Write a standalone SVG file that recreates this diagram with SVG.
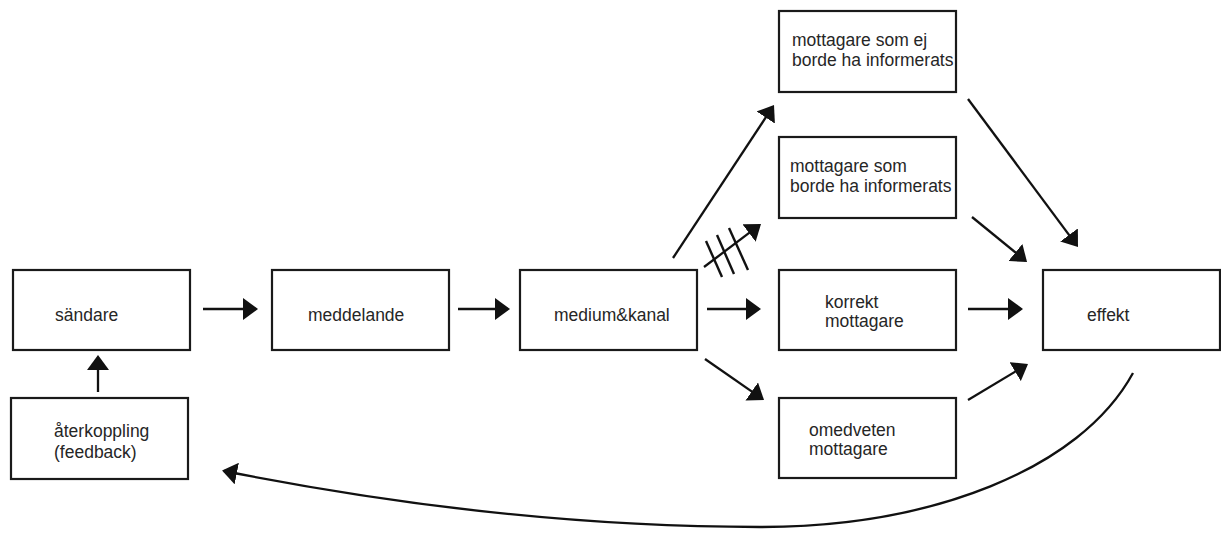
<svg xmlns="http://www.w3.org/2000/svg" width="1221" height="557" viewBox="0 0 1221 557">
  <style>
    .box { fill: #ffffff; stroke: #1a1a1a; stroke-width: 2.2; }
    .lbl { font-family: "Liberation Sans", Arial, sans-serif; font-size: 17.5px; fill: #262626; }
    .link { fill: none; stroke: #111111; stroke-width: 2.3; }
    .hatch { fill: none; stroke: #111111; stroke-width: 2.4; }
  </style>
  <defs>
    <marker id="head" viewBox="0 0 15 22" refX="13" refY="11" markerWidth="15" markerHeight="22" markerUnits="userSpaceOnUse" orient="auto">
      <path d="M0,0 L15,11 L0,22 Z" fill="#111111"/>
    </marker>
  </defs>
  <rect width="1221" height="557" fill="#ffffff"/>

  <g id="sandare">
    <rect class="box" x="13" y="270" width="177" height="80"/>
    <text class="lbl" x="55" y="321">sändare</text>
  </g>
  <g id="aterkoppling">
    <rect class="box" x="11" y="398" width="177" height="81"/>
    <text class="lbl" x="54" y="437">återkoppling</text>
    <text class="lbl" x="54" y="458">(feedback)</text>
  </g>
  <g id="meddelande">
    <rect class="box" x="272" y="270" width="177" height="80"/>
    <text class="lbl" x="308" y="321">meddelande</text>
  </g>
  <g id="medium">
    <rect class="box" x="520" y="270" width="177" height="80"/>
    <text class="lbl" x="554" y="321">medium&amp;kanal</text>
  </g>
  <g id="mottagare-ej">
    <rect class="box" x="779" y="11" width="177" height="81"/>
    <text class="lbl" x="792" y="46">mottagare som ej</text>
    <text class="lbl" x="792" y="66">borde ha informerats</text>
  </g>
  <g id="mottagare-borde">
    <rect class="box" x="779" y="137" width="177" height="81"/>
    <text class="lbl" x="790" y="172">mottagare som</text>
    <text class="lbl" x="790" y="192">borde ha informerats</text>
  </g>
  <g id="korrekt">
    <rect class="box" x="779" y="270" width="177" height="80"/>
    <text class="lbl" x="825" y="308">korrekt</text>
    <text class="lbl" x="825" y="327">mottagare</text>
  </g>
  <g id="omedveten">
    <rect class="box" x="779" y="398" width="177" height="80"/>
    <text class="lbl" x="809" y="436">omedveten</text>
    <text class="lbl" x="809" y="455">mottagare</text>
  </g>
  <g id="effekt">
    <rect class="box" x="1043" y="270" width="177" height="80"/>
    <text class="lbl" x="1087" y="321">effekt</text>
  </g>

  <g id="connectors">
    <path class="link" d="M203,309 H256" marker-end="url(#head)"/>
    <path class="link" d="M458,309 H508" marker-end="url(#head)"/>
    <path class="link" d="M707,309 H759" marker-end="url(#head)"/>
    <path class="link" d="M968,309 H1021" marker-end="url(#head)"/>
    <path class="link" d="M98,392 V357" marker-end="url(#head)"/>
    <path class="link" d="M673,258 L772.9,106.7" marker-end="url(#head)"/>
    <path class="link" d="M704,267 L759.4,225.2" marker-end="url(#head)"/>
    <path class="link" d="M705,359 L762.4,398.9" marker-end="url(#head)"/>
    <path class="link" d="M968,99 L1076.8,245.4" marker-end="url(#head)"/>
    <path class="link" d="M972,217 L1025.5,260.7" marker-end="url(#head)"/>
    <path class="link" d="M968,400 L1026.3,365" marker-end="url(#head)"/>
    <path class="link" d="M1133,373 C1080,470 930,527 760,527 C560,527 380,502 224,471" marker-end="url(#head)"/>
    <!-- blocked channel: three strokes across the short arrow -->
    <line class="hatch" x1="706" y1="241" x2="722" y2="277"/>
    <line class="hatch" x1="717" y1="235" x2="734" y2="274"/>
    <line class="hatch" x1="729" y1="228" x2="748" y2="270"/>
  </g>
</svg>
